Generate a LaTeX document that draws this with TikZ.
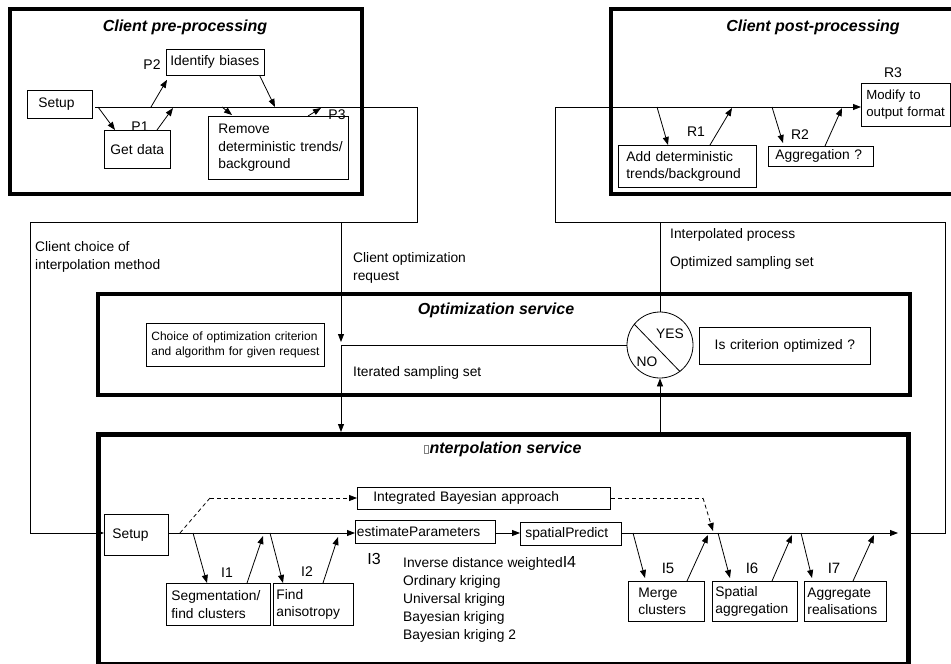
\documentclass[tikz,border=0pt]{standalone}
\usepackage{fontspec}
\setmainfont{Liberation Sans}
\usetikzlibrary{arrows.meta}
\newcommand\nfont{\fontsize{13.8}{17.5}\selectfont}
\hyphenpenalty=10000
\exhyphenpenalty=10000
\begin{document}
\begin{tikzpicture}[x=1pt,y=-1pt,
  ln/.style={line width=0.8pt},
  arr/.style={line width=0.8pt,-{Triangle[length=8pt,width=6pt]}},
  dsh/.style={line width=0.8pt,dash pattern=on 4pt off 3pt},
  frm/.style={draw,line width=3.5pt,inner sep=0pt},
  bx/.style={draw,line width=0.8pt,inner ysep=0pt,anchor=north west,align=left,font=\nfont},
  txt/.style={inner sep=0pt,font=\nfont,align=left},
  lab/.style={inner sep=0pt,font=\fontsize{14}{16}\selectfont},
  blab/.style={inner sep=0pt,font=\fontsize{16}{18}\selectfont},
  ttl/.style={inner sep=0pt,font=\fontsize{16}{19}\selectfont\bfseries\itshape}]
\useasboundingbox (0,0) rectangle (951,664);

% ---------- frames ----------
\draw[line width=3.5pt] (10,9) rectangle (362,194);
\draw[line width=3.5pt] (960,9) -- (611,9) -- (611,194) -- (960,194);
\node[frm,minimum width=812pt,minimum height=101pt,anchor=north west] (oframe) at (96,292) {};
\node[frm,line width=5pt,minimum width=810pt,minimum height=230pt,anchor=north west] (iframe) at (96,432) {};

% ---------- titles ----------
\node[ttl] (tpre) at (185,27) {Client pre-processing};
\node[ttl] (tpost) at (813,27) {Client post-processing};
\node[ttl] (topt) at (496,310) {Optimization service};
\node[ttl,anchor=west] (tint) at (424,449) {{\color{gray}\fboxsep=0pt\fboxrule=0.4pt\fbox{\rule{0pt}{8pt}\hspace{3.5pt}}}\hspace{1pt}nterpolation service};

% ---------- pre-processing boxes ----------
\node[bx,minimum width=65pt,minimum height=28pt,text width=43pt,inner xsep=11pt] (psetup) at (27,90) {Setup};
\node[bx,minimum width=66pt,minimum height=38pt,text width=54pt,inner xsep=6pt] (getdata) at (104,130) {Get~data};
\node[bx,minimum width=98pt,minimum height=26pt,text width=90pt,inner xsep=4pt] (identify) at (166,49) {Identify~biases};
\node[bx,minimum width=140pt,minimum height=63pt,text width=120pt,inner xsep=10pt] (remove) at (208,116) {Remove\\deterministic~trends/\\background};

\node[lab] (lp1) at (140,127) {P1};
\node[lab] (lp2) at (152,65) {P2};
\node[lab] (lp3) at (337,115) {P3};

% ---------- post-processing boxes ----------
\node[bx,minimum width=138pt,minimum height=42pt,text width=122pt,inner xsep=8pt] (add) at (618,145) {Add~deterministic\\trends/background};
\node[bx,minimum width=105pt,minimum height=20pt,text width=91pt,inner xsep=7pt] (aggr) at (768,146) {Aggregation~?};
\node[bx,font=\fontsize{13.2}{17}\selectfont,minimum width=89pt,minimum height=43pt,text width=79pt,inner xsep=5pt] (modify) at (861,83) {Modify~to\\output~format};

\node[lab] (lr1) at (696,132) {R1};
\node[lab] (lr2) at (800,135) {R2};
\node[lab] (lr3) at (893,73) {R3};

% ---------- optimization ----------
\node[bx,font=\fontsize{12}{14.5}\selectfont,minimum width=178pt,minimum height=43pt,text width=168pt,inner xsep=5pt] (choice) at (146,323) {Choice~of~optimization~criterion\\and~algorithm~for~given~request};
\node[bx,align=center,minimum width=171pt,minimum height=37pt,text width=163pt,inner xsep=4pt] (iscrit) at (699,327) {Is~criterion~optimized~?};
\node[draw,circle,line width=0.8pt,minimum size=66pt,inner sep=0pt] (dec) at (660,345) {};
\draw[ln] (dec.141) -- (dec.-53);
\node[txt] (yes) at (670,334) {YES};
\node[txt] (no) at (647,362) {NO};

% ---------- free text ----------
\node[txt,anchor=west] (t1) at (35,257) {Client choice of\\interpolation method};
\node[txt,anchor=west] (t2) at (353,268) {Client optimization\\request};
\node[txt,anchor=west] (t3) at (670,235) {Interpolated process};
\node[txt,anchor=west] (t4) at (670,263) {Optimized sampling set};
\node[txt,anchor=west] (t5) at (353,373) {Iterated sampling set};

% ---------- interpolation boxes ----------
\node[bx,minimum width=64pt,minimum height=41pt,text width=48pt,inner xsep=8pt] (isetup) at (104,514) {Setup};
\node[bx,minimum width=253pt,minimum height=22pt,text width=221pt,inner xsep=16pt] (ibayes) at (357,487) {Integrated~Bayesian~approach};
\node[bx,minimum width=140pt,minimum height=23pt,text width=137pt,inner xsep=1.5pt] (iest) at (355,520) {estimateParameters};
\node[bx,minimum width=101pt,minimum height=23pt,text width=91pt,inner xsep=5pt] (ispat) at (520,522) {spatialPredict};
\node[bx,minimum width=104pt,minimum height=42pt,text width=94pt,inner xsep=5pt] (iseg) at (166,583) {Segmentation/\\find~clusters};
\node[bx,minimum width=80pt,minimum height=42pt,text width=74pt,inner xsep=3pt] (ianis) at (273,583) {Find\\anisotropy};
\node[bx,minimum width=76pt,minimum height=40pt,text width=56pt,inner xsep=10pt] (imerge) at (628,581) {Merge\\clusters};
\node[bx,minimum width=85pt,minimum height=40pt,text width=79pt,inner xsep=3pt] (ispag) at (712,581) {Spatial\\aggregation};
\node[bx,minimum width=82pt,minimum height=40pt,text width=76pt,inner xsep=3pt] (iaggr) at (804,581) {Aggregate\\realisations};

\node[lab] (li1) at (227,573) {I1};
\node[lab] (li2) at (307,572) {I2};
\node[blab] (li3) at (374,559) {I3};
\node[lab,font=\fontsize{15}{17}\selectfont] (li5) at (668,568) {I5};
\node[lab,font=\fontsize{15}{17}\selectfont] (li6) at (752,568) {I6};
\node[lab,font=\fontsize{15}{17}\selectfont] (li7) at (834,568) {I7};
\node[txt,font=\fontsize{13.8}{18}\selectfont,anchor=west] (methods) at (403,599) {Inverse distance weighted{\fontsize{16}{18}\selectfont I4}\\Ordinary kriging\\Universal kriging\\Bayesian kriging\\Bayesian kriging 2};

% ---------- coordinates ----------
\coordinate (p0) at (95,107);
\coordinate (p1) at (417,107);
\coordinate (p2) at (417,222);
\coordinate (p3) at (30,222);
\coordinate (q0) at (341,222);
\coordinate (q1) at (341,342);
\coordinate (r0) at (555,107);
\coordinate (r1) at (555,222);
\coordinate (r2) at (945,222);
\coordinate (im) at (168,533);
\coordinate (iend) at (898,533);

% ---------- main connectors ----------
\draw[arr] (p0) -- (p1) -- (p2) -- (p3) -- (p3 |- im) -- (isetup.west |- im);
\draw[arr] (q0) -- (q1);
\draw[arr] (dec.west) -- (dec.west -| q0) -- (q0 |- iframe.north);
\draw[arr] (iframe.east |- im) -- (r2 |- im) -- (r2) -- (r1) -- (r0) -- (modify.west |- r0);
\draw[ln] (dec.north) -- (dec.north |- r1);
\draw[arr] (dec.south |- iframe.north) -- (dec.south);

% interpolation main line
\draw[arr] (isetup.east |- im) -- (iest.west |- im);
\draw[arr] (iest.east |- im) -- (ispat.west |- im);
\draw[arr] (ispat.east |- im) -- (iend);

% dashed Bayesian path
\coordinate (d0) at (180,533);
\coordinate (d1) at (210,498);
\coordinate (d2) at (703,498);
\coordinate (d3) at (713,531);
\draw[dsh] (d0) -- (d1);
\draw[dsh,-{Triangle[length=8pt,width=6pt]}] (d1) -- (ibayes.west |- d1);
\draw[dsh] (ibayes.east |- d2) -- (d2);
\draw[dsh,-{Triangle[length=8pt,width=6pt]}] (d2) -- (d3);

% ---------- pre small arrows ----------
\coordinate (pa1) at (98,107);
\coordinate (pa2) at (173,108);
\coordinate (pa3) at (151,107);
\coordinate (pa4) at (275,107);
\coordinate (pa5) at (222,107);
\coordinate (pa6) at (321,108);
\draw[arr] (pa1) -- ([xshift=11pt]getdata.north west);
\draw[arr] ([xshift=53pt]getdata.north west) -- (pa2);
\draw[arr] (pa3) -- ([xshift=1pt,yshift=-4pt]identify.south west);
\draw[arr] ([xshift=-5pt]identify.south east) -- (pa4);
\draw[arr] (pa5) -- ([xshift=24pt,yshift=1pt]remove.north west);
\draw[arr] ([xshift=100pt]remove.north west) -- (pa6);

% ---------- post small arrows ----------
\coordinate (ra1) at (657,107);
\coordinate (ra2) at (732,108);
\coordinate (ra3) at (772,107);
\coordinate (ra4) at (842,108);
\draw[arr] (ra1) -- ([xshift=50pt]add.north west);
\draw[arr] ([xshift=92pt]add.north west) -- (ra2);
\draw[arr] (ra3) -- ([xshift=15pt,yshift=3pt]aggr.north west);
\draw[arr] ([xshift=57pt]aggr.north west) -- (ra4);

% ---------- interpolation small arrows ----------
\coordinate (ia1) at (193,533);
\coordinate (ia2) at (263,536);
\coordinate (ia3) at (270,533);
\coordinate (ia4) at (338,537);
\coordinate (ia5) at (633,533);
\coordinate (ia6) at (708,535);
\coordinate (ia7) at (718,533);
\coordinate (ia8) at (792,535);
\coordinate (ia9) at (801,533);
\coordinate (ia10) at (874,535);
\draw[arr] (ia1) -- ([xshift=41pt]iseg.north west);
\draw[arr] ([xshift=81pt]iseg.north west) -- (ia2);
\draw[arr] (ia3) -- ([xshift=10pt]ianis.north west);
\draw[arr] ([xshift=50pt]ianis.north west) -- (ia4);
\draw[arr] (ia5) -- ([xshift=17pt,yshift=3pt]imerge.north west);
\draw[arr] ([xshift=59pt]imerge.north west) -- (ia6);
\draw[arr] (ia7) -- ([xshift=18pt,yshift=3pt]ispag.north west);
\draw[arr] ([xshift=60pt]ispag.north west) -- (ia8);
\draw[arr] (ia9) -- ([xshift=8pt,yshift=3pt]iaggr.north west);
\draw[arr] ([xshift=49pt]iaggr.north west) -- (ia10);
\end{tikzpicture}
\end{document}
